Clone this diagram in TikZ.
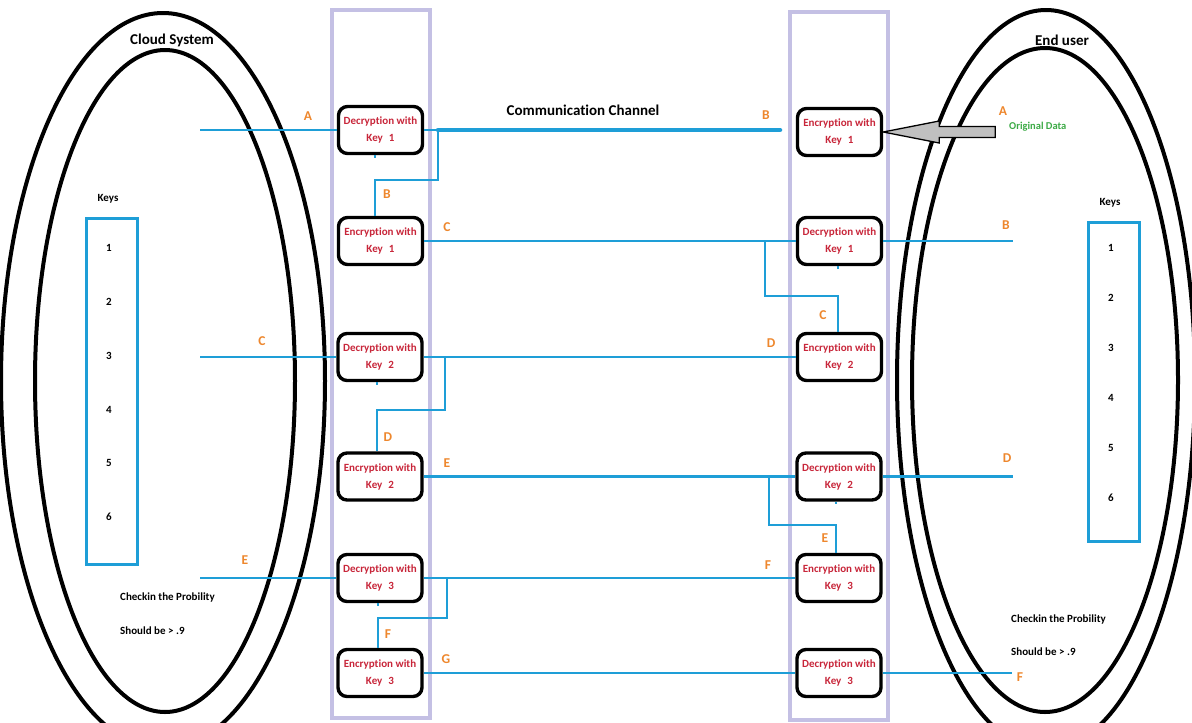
\documentclass[tikz,border=0pt]{standalone}
\usepackage{fontspec}
\setmainfont{Carlito}[Ligatures=NoCommon]
\usetikzlibrary{calc}

\definecolor{wireblue}{RGB}{30,158,215}
\definecolor{lanepurple}{RGB}{196,192,228}
\definecolor{tagorange}{RGB}{238,135,45}
\definecolor{boxred}{RGB}{200,38,58}
\definecolor{datagreen}{RGB}{60,170,70}
\definecolor{arrowgray}{RGB}{192,192,192}

\begin{document}
\begin{tikzpicture}[x=1pt,y=-1pt,
  every node/.style={inner sep=0pt},
  cipher/.style={draw=black, line width=3.4pt, rounded corners=9pt,
    minimum width=84pt, minimum height=47pt, align=center, text=boxred,
    font=\fontsize{11}{17}\selectfont\bfseries, fill=white},
  link/.style={draw=wireblue, line width=2.8pt},
  channel/.style={draw=wireblue, line width=4.5pt, line cap=round},
  tag/.style={text=tagorange, font=\fontsize{13.5}{13.5}\selectfont\bfseries},
  plain/.style={text=black, font=\fontsize{11}{11}\selectfont\bfseries},
  heading/.style={text=black, font=\fontsize{15}{15}\selectfont\bfseries},
  lane/.style={draw=lanepurple, line width=3.5pt},
  rim/.style={draw=black, line width=4pt},
  keybox/.style={draw=wireblue, line width=3pt, minimum width=51pt},
]
\useasboundingbox (0,0) rectangle (1192,723);
\clip (0,0) rectangle (1192,723);
\fill[white] (0,0) rectangle (1192,723);

% the two systems
\draw[rim] (163,381) ellipse [x radius=162pt, y radius=368pt];
\draw[rim] (165,381) ellipse [x radius=130pt, y radius=331pt];
\draw[rim] (1046,380) ellipse [x radius=149pt, y radius=370pt];
\draw[rim] (1045,380) ellipse [x radius=133pt, y radius=332pt];

\node[heading] (cloud) at (172,40) {Cloud System};
\node[heading] (user) at (1062,40) {End user};

% processing lanes
\draw[lane] (332,10) rectangle (430,718);
\draw[lane] (790,12) rectangle (888,720);

% cipher steps, cloud side
\node[cipher] (dL1) at (380.5,130) {Decryption with\\Key\hspace{6pt}1};
\node[cipher] (eL2) at (380.5,241) {Encryption with\\Key\hspace{6pt}1};
\node[cipher] (dL3) at (380,357) {Decryption with\\Key\hspace{6pt}2};
\node[cipher] (eL4) at (380,476.5) {Encryption with\\Key\hspace{6pt}2};
\node[cipher] (dL5) at (380,578) {Decryption with\\Key\hspace{6pt}3};
\node[cipher] (eL6) at (380,673) {Encryption with\\Key\hspace{6pt}3};

% cipher steps, user side
\node[cipher] (eR1) at (839.5,132) {Encryption with\\Key\hspace{6pt}1};
\node[cipher] (dR2) at (839.5,241) {Decryption with\\Key\hspace{6pt}1};
\node[cipher] (eR3) at (839.5,357) {Encryption with\\Key\hspace{6pt}2};
\node[cipher] (dR4) at (839,476.5) {Decryption with\\Key\hspace{6pt}2};
\node[cipher] (eR5) at (839,578) {Encryption with\\Key\hspace{6pt}3};
\node[cipher] (dR6) at (839,673) {Decryption with\\Key\hspace{6pt}3};

% free ends and junctions
\coordinate (sL1) at (200,130);
\coordinate (sL3) at (200,357);
\coordinate (sL5) at (200,578);
\coordinate (rE2) at (1013,241);
\coordinate (rE4) at (1013,476.5);
\coordinate (rE6) at (1012,673);
\coordinate (j1) at (438,130);
\coordinate (k1) at (375,180);
\coordinate (chEnd) at (780,130);
\coordinate (j2) at (765,241);
\coordinate (k2) at (838,296);
\coordinate (j3) at (445,357);
\coordinate (k3) at (377,410);
\coordinate (j4) at (769,476.5);
\coordinate (k4) at (836,525);
\coordinate (j5) at (447,578);
\coordinate (k5) at (378,618);

% row 1
\draw[link] (sL1) -- (dL1.west);
\draw[link] (dL1.east) -- (j1);
\draw[channel] (j1) -- (chEnd);
\draw[link] (j1) |- (k1) -- (k1 |- eL2.north);
\draw[link] (dL1.south -| k1) -- ++(0,2.5);
% row 2
\draw[link] (eL2.east) -- (dR2.west);
\draw[link] (dR2.east) -- (rE2);
\draw[link] (j2) |- (k2) -- (k2 |- eR3.north);
\draw[link] (dR2.south -| k2) -- ++(0,2.5);
% row 3
\draw[link] (sL3) -- (dL3.west);
\draw[link] (dL3.east) -- (eR3.west);
\draw[link] (j3) |- (k3) -- (k3 |- eL4.north);
\draw[link] (dL3.south -| k3) -- ++(0,2.5);
% row 4
\draw[link] (eL4.east) -- (dR4.west);
\draw[link] (dR4.east) -- (rE4);
\draw[link] (j4) |- (k4) -- (k4 |- eR5.north);
\draw[link] (dR4.south -| k4) -- ++(0,2.5);
% row 5
\draw[link] (sL5) -- (dL5.west);
\draw[link] (dL5.east) -- (eR5.west);
\draw[link] (j5) |- (k5) -- (k5 |- eL6.north);
\draw[link] (dL5.south -| k5) -- ++(0,2.5);
% row 6
\draw[link] (eL6.east) -- (dR6.west);
\draw[link] (dR6.east) -- (rE6);

% incoming plain data
\draw[line width=1.3pt, fill=arrowgray] (eR1.east) -- ++(56,-11) -- ++(0,5.5)
  -- ++(56,0) -- ++(0,11) -- ++(-56,0) -- ++(0,5.5) -- cycle;
\node[text=datagreen, font=\fontsize{10.5}{10.5}\selectfont\bfseries, anchor=west]
  (orig) at (1009,127) {Original Data};

\node[heading] (chan) at (583,110) {Communication Channel};

% step labels
\node[tag] (tA1) at (308,116) {A};
\node[tag] (tB1) at (387,194) {B};
\node[tag] (tB2) at (766,115) {B};
\node[tag] (tA2) at (1003,111) {A};
\node[tag] (tC1) at (447,227) {C};
\node[tag] (tB3) at (1006,225) {B};
\node[tag] (tC2) at (823,315) {C};
\node[tag] (tC3) at (262,341) {C};
\node[tag] (tD1) at (771,343) {D};
\node[tag] (tD2) at (388,437) {D};
\node[tag] (tE1) at (447,463) {E};
\node[tag] (tD3) at (1007,458) {D};
\node[tag] (tE2) at (825,538) {E};
\node[tag] (tE3) at (245,560) {E};
\node[tag] (tF1) at (768,565) {F};
\node[tag] (tF2) at (388,634) {F};
\node[tag] (tG) at (446,659) {G};
\node[tag] (tF3) at (1020,677) {F};

% key stores
\node[plain] (keyLt) at (108,199) {Keys};
\node[keybox, minimum height=346pt] (keysL) at (112,391.5) {};
\foreach \k/\y in {1/248,2/302,3/356,4/410,5/463,6/517}
  \node[plain] (kl\k) at (109,\y) {\k};
\node[plain] (keyRt) at (1110,203) {Keys};
\node[keybox, minimum height=319pt] (keysR) at (1114,382) {};
\foreach \k/\y in {1/248,2/298,3/348,4/398,5/448,6/498}
  \node[plain] (kr\k) at (1111,\y) {\k};

% probability checks
\node[plain, anchor=west] (pL1) at (120,597) {Checkin the Probility};
\node[plain, anchor=west] (pL2) at (120,631) {Should be > .9};
\node[plain, anchor=west] (pR1) at (1011,619) {Checkin the Probility};
\node[plain, anchor=west] (pR2) at (1011,652) {Should be > .9};
\end{tikzpicture}
\end{document}
